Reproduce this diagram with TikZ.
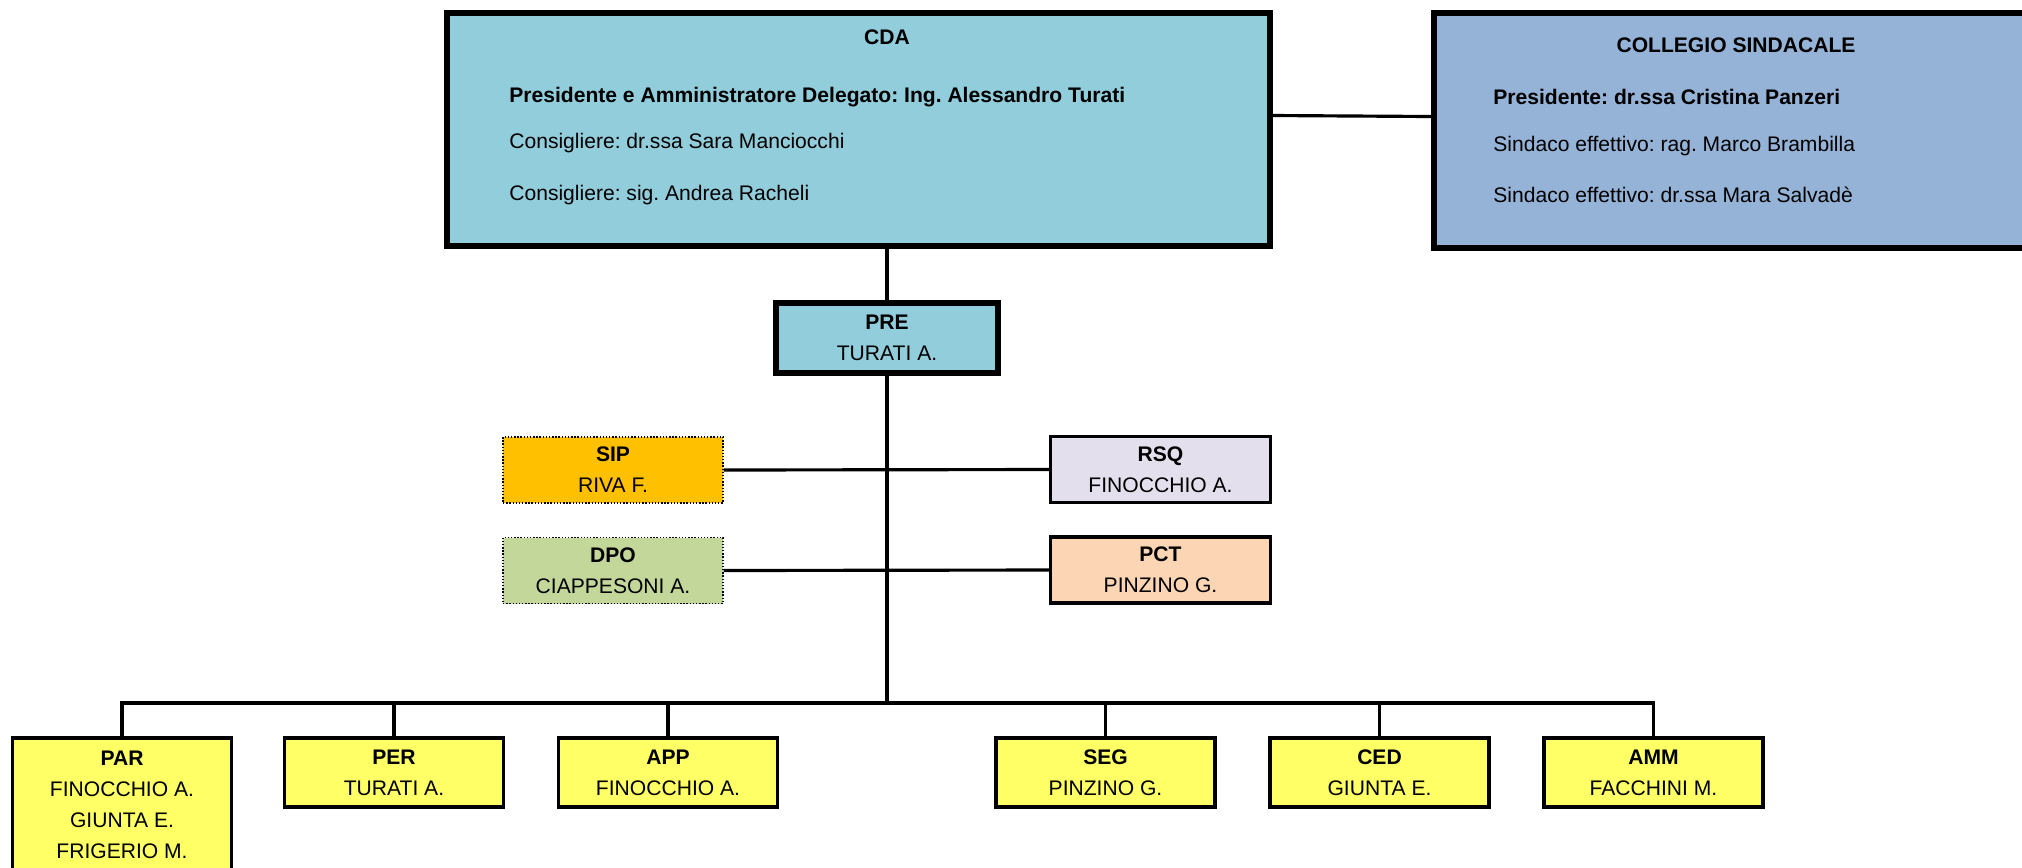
\documentclass[tikz,border=0pt]{standalone}
\usepackage{fontspec}
\setmainfont{Liberation Sans}
\frenchspacing
\definecolor{cdablue}{HTML}{92CDDC}
\definecolor{csblue}{HTML}{95B3D7}
\definecolor{siporange}{HTML}{FFC000}
\definecolor{dpogreen}{HTML}{C4D79B}
\definecolor{rsqlilac}{HTML}{E4DFEC}
\definecolor{pctpeach}{HTML}{FCD5B4}
\definecolor{unityellow}{HTML}{FFFF66}

\begin{document}
\begin{tikzpicture}
	[x=0.02cm,y=-0.02cm,
	every node/.style={font=\fontsize{12}{17.6}\selectfont,align=center},
	board/.style={rectangle,draw,line width=3.4pt},
	staff/.style={rectangle,minimum width=4.4cm,minimum height=1.32cm},
	unit/.style={rectangle,draw,line width=2.2pt,fill=unityellow,anchor=north,
		minimum width=4.38cm,minimum height=1.38cm},
	txt/.style={anchor=west,inner sep=0pt},
	link/.style={line width=1.8pt}]
	\useasboundingbox (0,0) rectangle (2022,867);
		\node[board,fill=cdablue,minimum width=16.46cm,minimum height=4.66cm](cda) at (858.5,129.5){};
		\node[inner sep=0pt](cdatitle) at (887,37){\textbf{CDA}};
		\node[txt](cdapres) at (509,97){\textbf{Presidente e Amministratore Delegato: Ing. Alessandro Turati}};
		\node[txt](cdacons1) at (509,143){Consigliere: dr.ssa Sara Manciocchi};
		\node[txt](cdacons2) at (509,195){Consigliere: sig. Andrea Racheli};
		\node[board,fill=csblue,minimum width=12.52cm,minimum height=4.7cm](cs) at (1747,130.5){};
		\node[inner sep=0pt](cstitle) at (1736,45){\textbf{COLLEGIO SINDACALE}};
		\node[txt](cspres) at (1493,97){\textbf{Presidente: dr.ssa Cristina Panzeri}};
		\node[txt](cssind1) at (1493,146){Sindaco effettivo: rag. Marco Brambilla};
		\node[txt](cssind2) at (1493,195){Sindaco effettivo: dr.ssa Mara Salvad\`e};
		\node[board,fill=cdablue,minimum width=4.44cm,minimum height=1.4cm](pre) at (887,338){\textbf{PRE}\\TURATI A.};
		\node[staff,draw,densely dotted,line width=0.8pt,fill=siporange](sip) at (613,470){\textbf{SIP}\\RIVA F.};
		\node[staff,draw,line width=1.8pt,fill=rsqlilac](rsq) at (1160.5,469.5){\textbf{RSQ}\\FINOCCHIO A.};
		\node[staff,draw,densely dotted,line width=0.8pt,fill=dpogreen](dpo) at (613,570.5){\textbf{DPO}\\CIAPPESONI A.};
		\node[staff,draw,line width=1.8pt,fill=pctpeach](pct) at (1160.5,570){\textbf{PCT}\\PINZINO G.};
		\node[unit,minimum height=2.68cm](par) at (122,736){\textbf{PAR}\\FINOCCHIO A.\\GIUNTA E.\\FRIGERIO M.};
		\node[unit](per) at (394,736){\textbf{PER}\\TURATI A.};
		\node[unit](app) at (668,736){\textbf{APP}\\FINOCCHIO A.};
		\node[unit](seg) at (1105.5,736){\textbf{SEG}\\PINZINO G.};
		\node[unit](ced) at (1379.5,736){\textbf{CED}\\GIUNTA E.};
		\node[unit](amm) at (1653.5,736){\textbf{AMM}\\FACCHINI M.};
		\coordinate(bus) at (887,703);
		\draw[link]([yshift=0.28cm]cda.east) -- ([yshift=0.28cm]cs.west);
		\draw[link](cda.south -| pre.north) -- (pre.north);
		\draw[link](pre.south) -- (bus);
		\draw[link](sip.east) -- (rsq.west);
		\draw[link](dpo.east) -- (pct.west);
		\draw[link](par.north) -- (par.north |- bus) -- (amm.north |- bus) -- (amm.north);
		\foreach \u in {per,app,seg,ced}
			\draw[link](\u.north) -- (\u.north |- bus);
\end{tikzpicture}
\end{document}
